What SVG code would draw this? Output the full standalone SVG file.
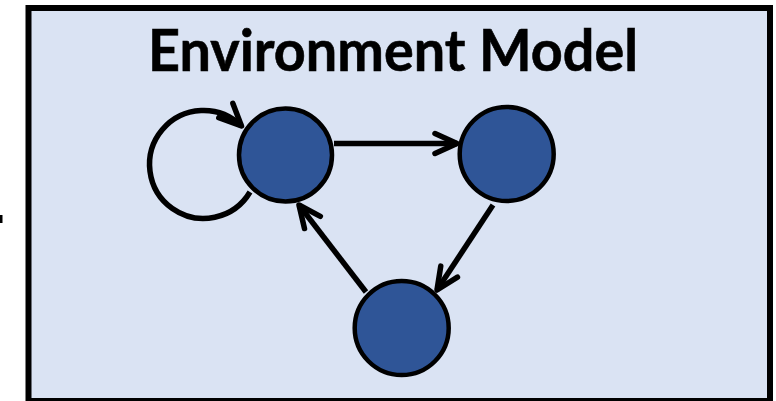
<svg xmlns="http://www.w3.org/2000/svg" width="776" height="401" viewBox="0 0 776 401">
<style>
.frame{fill:#dae3f3;stroke:#000;stroke-width:6}
.node{fill:#2f5597;stroke:#000;stroke-width:4.5}
.edge{fill:none;stroke:#000;stroke-width:5.5;marker-end:url(#arrow)}
.title{font-family:Lato,"Open Sans","Liberation Sans",sans-serif;font-weight:bold;font-size:58px;fill:#000}
</style>
<defs>
<marker id="arrow" markerUnits="userSpaceOnUse" markerWidth="40" markerHeight="40" viewBox="-30 -20 40 40" refX="0" refY="0" orient="auto">
<path d="M -22 -10 L 0 0 L -22 10" fill="none" stroke="#000" stroke-width="5.5" stroke-linecap="round" stroke-linejoin="round"/>
</marker>
</defs>
<rect x="0" y="215" width="2.5" height="8" fill="#000"/>
<rect class="frame" x="28.5" y="8" width="741.5" height="393"/>
<text class="title" x="148" y="71" textLength="490" lengthAdjust="spacingAndGlyphs" stroke="#000" stroke-width="0.6">Environment Model</text>
<g id="connectors">
<path class="edge" d="M 250 192 A 54 54 0 1 1 241.5 126"/>
<line class="edge" x1="334" y1="143.5" x2="457" y2="143.5"/>
<line class="edge" x1="493" y1="205" x2="437" y2="290"/>
<line class="edge" x1="366" y1="292" x2="299" y2="205"/>
</g>
<g id="node1"><circle class="node" cx="285.5" cy="155" r="46.5"/></g>
<g id="node2"><circle class="node" cx="506.7" cy="154" r="47"/></g>
<g id="node3"><circle class="node" cx="401.7" cy="328" r="47"/></g>
</svg>
